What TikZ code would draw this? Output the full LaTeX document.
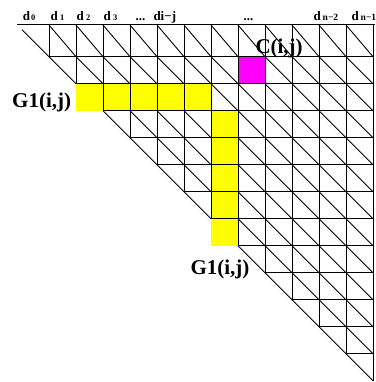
\documentclass[tikz,border=0pt]{standalone}
\usepackage{fontspec}
\setmainfont{Liberation Serif}
\usetikzlibrary{positioning}
\definecolor{cellmag}{RGB}{255,0,255}
\definecolor{cellyel}{RGB}{255,255,0}

\begin{document}
\begin{tikzpicture}[x=1pt, y=-1pt, line width=1pt,
    head/.style={font=\bfseries\fontsize{13}{15}\selectfont, inner sep=0pt, anchor=base west},
    tag/.style={font=\bfseries\fontsize{21}{24}\selectfont, inner sep=0pt, anchor=base west}]
    \useasboundingbox (0,0) rectangle (375,382);
    % diagonals of the cells
    \draw[line width=0.9pt] (22,29.7) -- (373,380.7);
    \foreach \k in {1,...,12}
        \draw[line width=0.9pt] ({22+27*\k},25) -- ({49+27*\k},56.7) -- (373,{29.7+27*(13-\k)});
    % marked cells
    \fill[cellyel] (76,83.7) rectangle (211,110.7);
    \fill[cellyel] (211,110.7) rectangle (238,245.7);
    \fill[cellmag] (238,56.7) rectangle (265,83.7);
    % rows and columns
    \draw (17,25) -- (375,25);
    \foreach \c in {1,...,13}
        \draw ({22+27*\c},25) -- ({22+27*\c},{29.7+27*\c});
    \foreach \r in {1,...,12}
        \draw ({22+27*\r},{29.7+27*\r}) -- (373,{29.7+27*\r});
    % column heads
    \node[head] (d0) at (22.3,20.5) {d\kern1.2pt{\fontsize{8.5}{10}\selectfont 0}};
    \node[head] (d1) at (50,20.5) {d\kern2.5pt{\fontsize{8.5}{10}\selectfont 1}};
    \node[head] (d2) at (76,20.5) {d\kern2.5pt{\fontsize{8.5}{10}\selectfont 2}};
    \node[head] (d3) at (103,20.5) {d\kern2.5pt{\fontsize{8.5}{10}\selectfont 3}};
    \node[head] (dotsa) at (135,20.5) {...};
    \node[head] (dij) at (153,20.5) {di−j};
    \node[head] (dotsb) at (243,20.5) {...};
    \node[head] (dn2) at (313,20.5) {d\kern2pt{\fontsize{9.5}{10}\selectfont n−2}};
    \node[head] (dn1) at (351,20.5) {d\kern2pt{\fontsize{9.5}{10}\selectfont n−1}};
    % labels
    \node[tag] (cij) at (255,53.3) {C(i,j)};
    \node[tag] (grow) at (11.7,107.3) {G1(i,j)};
    \node[tag] (gcol) at (190,274) {G1(i,j)};
\end{tikzpicture}
\end{document}
